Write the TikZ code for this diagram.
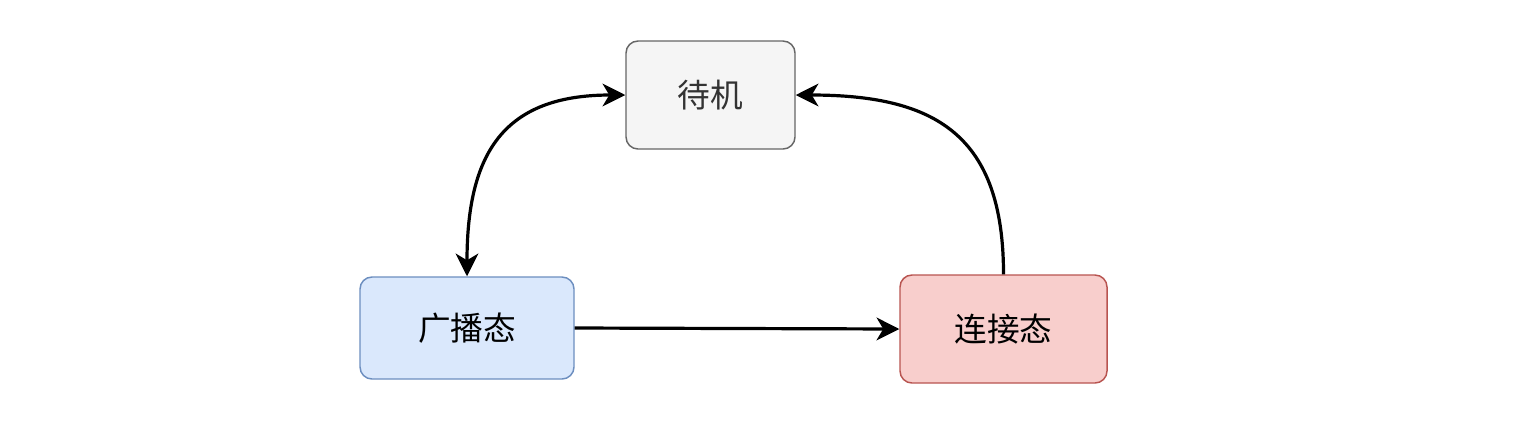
\documentclass[tikz,border=0pt]{standalone}
\usepackage{fontspec}
\setmainfont{Noto Sans CJK SC}
\usetikzlibrary{arrows.meta}
\definecolor{idlefill}{HTML}{F5F5F5}
\definecolor{idledraw}{HTML}{666666}
\definecolor{idletext}{HTML}{333333}
\definecolor{advfill}{HTML}{DAE8FC}
\definecolor{advdraw}{HTML}{6C8EBF}
\definecolor{connfill}{HTML}{F8CECC}
\definecolor{conndraw}{HTML}{B85450}
\begin{document}
\begin{tikzpicture}[x=0.75pt, y=-0.75pt,
    state/.style = {draw, rounded corners=9pt, line width=1.1pt, font=\fontsize{24.5}{28}\selectfont, inner sep=0pt},
    edge/.style = {line width=2.4pt, -{Stealth[length=17pt, width=17pt, inset=5pt]}}]
    \useasboundingbox (0,0) rectangle (1519,430);
    \node[state, fill=idlefill, draw=idledraw, text=idletext, minimum width=126.75pt, minimum height=81pt] (idle) at (710.5, 95) {待机};
    
    \node[state, fill=advfill, draw=advdraw, minimum width=160.5pt, minimum height=76.5pt] (adv) at (467, 328) {广播态};
    \node[state, fill=connfill, draw=conndraw, minimum width=155.25pt, minimum height=81pt] (conn) at (1003.5, 329) {连接态};
    
    \draw[edge, {Stealth[length=17pt, width=17pt, inset=5pt]}-{Stealth[length=17pt, width=17pt, inset=5pt]}] (idle.west) to[out=180, in=90, looseness=1.3] (adv.north);
    \draw[edge] (adv.east) -- (conn.west);
    \draw[edge] (conn.north) to[out=90, in=0, looseness=1.3] (idle.east);
    
\end{tikzpicture}
\end{document}
